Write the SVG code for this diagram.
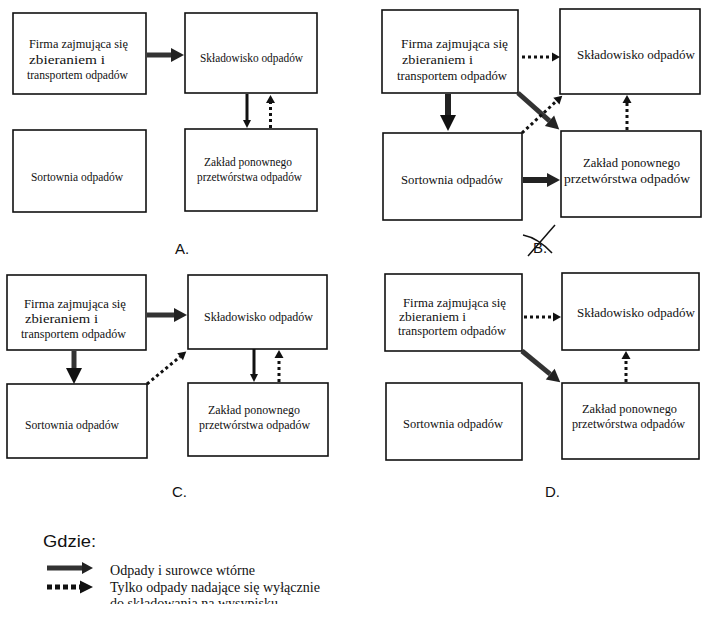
<svg xmlns="http://www.w3.org/2000/svg" width="713" height="617" viewBox="0 0 713 617">
<style>
  .box { fill: #fff; stroke: #111; stroke-width: 1.6; }
  .t { font-family: "Liberation Serif", "Times New Roman", serif; font-size: 13px; fill: #111; }
  .lt { font-family: "Liberation Serif", "Times New Roman", serif; font-size: 14px; fill: #111; }
  .lab { font-family: "Liberation Sans", Arial, sans-serif; font-size: 15px; fill: #111; }
  .thick { stroke: #333; stroke-width: 5; fill: none; }
  .thickB { stroke: #222; stroke-width: 6; fill: none; }
  .solid { stroke: #111; stroke-width: 3; fill: none; }
  .dot { stroke: #111; stroke-width: 3; stroke-dasharray: 3 3; fill: none; }
  .legdot { stroke: #111; stroke-width: 5; stroke-dasharray: 5 3; fill: none; }
  .cross { stroke: #111; stroke-width: 1.5; fill: none; }
</style>
<defs>
  <marker id="hThick" markerUnits="userSpaceOnUse" markerWidth="13" markerHeight="14" refX="0" refY="7" orient="auto" overflow="visible">
    <path d="M0,0 L13,7 L0,14 Z" fill="#222"/>
  </marker>
  <marker id="hBig" markerUnits="userSpaceOnUse" markerWidth="16" markerHeight="16" refX="0" refY="8" orient="auto" overflow="visible">
    <path d="M0,0 L16,8 L0,16 Z" fill="#111"/>
  </marker>
  <marker id="hSmall" markerUnits="userSpaceOnUse" markerWidth="8" markerHeight="8" refX="0" refY="4" orient="auto" overflow="visible">
    <path d="M0,0 L8,4 L0,8 Z" fill="#111"/>
  </marker>
  <marker id="hDot" markerUnits="userSpaceOnUse" markerWidth="8" markerHeight="9" refX="0" refY="4.5" orient="auto" overflow="visible">
    <path d="M0,0 L8,4.5 L0,9 Z" fill="#111"/>
  </marker>
  <marker id="hLeg" markerUnits="userSpaceOnUse" markerWidth="11" markerHeight="12" refX="0" refY="6" orient="auto" overflow="visible">
    <path d="M0,0 L11,6 L0,12 Z" fill="#222"/>
  </marker>
  <marker id="hLegDot" markerUnits="userSpaceOnUse" markerWidth="13" markerHeight="13" refX="0" refY="6.5" orient="auto" overflow="visible">
    <path d="M0,0 L13,6.5 L0,13 Z" fill="#111"/>
  </marker>
  <clipPath id="legClip"><rect x="0" y="0" width="713" height="604"/></clipPath>
</defs>
<rect width="713" height="617" fill="#fff"/>

<!-- Panel A -->
<g id="A-firma">
  <rect class="box" x="13" y="13" width="133" height="81"/>
  <text class="t" x="29" y="48" textLength="99" lengthAdjust="spacingAndGlyphs">Firma zajmująca się</text>
  <text class="t" x="29" y="63.5" textLength="76" lengthAdjust="spacingAndGlyphs">zbieraniem i</text>
  <text class="t" x="27" y="79" textLength="101" lengthAdjust="spacingAndGlyphs">transportem odpadów</text>
</g>
<g id="A-skladowisko">
  <rect class="box" x="185" y="13" width="132" height="80"/>
  <text class="t" x="200" y="62" textLength="103" lengthAdjust="spacingAndGlyphs">Składowisko odpadów</text>
</g>
<g id="A-sortownia">
  <rect class="box" x="13" y="130" width="133" height="82"/>
  <text class="t" x="31" y="181" textLength="92" lengthAdjust="spacingAndGlyphs">Sortownia odpadów</text>
</g>
<g id="A-zaklad">
  <rect class="box" x="185" y="129" width="132" height="82"/>
  <text class="t" x="204" y="165.5" textLength="88" lengthAdjust="spacingAndGlyphs">Zakład ponownego</text>
  <text class="t" x="197" y="180.5" textLength="105" lengthAdjust="spacingAndGlyphs">przetwórstwa odpadów</text>
</g>
<text class="lab" x="175" y="254">A.</text>

<!-- Panel B -->
<g id="B-firma">
  <rect class="box" x="382" y="10" width="136" height="83"/>
  <text class="t" x="401" y="47.5" textLength="107" lengthAdjust="spacingAndGlyphs">Firma zajmująca się</text>
  <text class="t" x="402" y="64" textLength="71" lengthAdjust="spacingAndGlyphs">zbieraniem i</text>
  <text class="t" x="397" y="79.5" textLength="110" lengthAdjust="spacingAndGlyphs">transportem odpadów</text>
</g>
<g id="B-skladowisko">
  <rect class="box" x="560" y="9" width="140" height="85"/>
  <text class="t" x="577" y="59" textLength="118" lengthAdjust="spacingAndGlyphs">Składowisko odpadów</text>
</g>
<g id="B-sortownia">
  <rect class="box" x="383" y="133" width="139" height="87"/>
  <text class="t" x="401" y="184" textLength="102" lengthAdjust="spacingAndGlyphs">Sortownia odpadów</text>
</g>
<g id="B-zaklad">
  <rect class="box" x="561" y="131" width="140" height="86"/>
  <text class="t" x="583" y="166.5" textLength="97" lengthAdjust="spacingAndGlyphs">Zakład ponownego</text>
  <text class="t" x="564" y="182.5" textLength="126" lengthAdjust="spacingAndGlyphs">przetwórstwa odpadów</text>
</g>
<g id="B-label">
  <text class="lab" x="533" y="253">B.</text>
  <path class="cross" d="M523,235 Q538,238 552,253"/>
  <path class="cross" d="M555,225 L528,256"/>
</g>

<!-- Panel C -->
<g id="C-firma">
  <rect class="box" x="7" y="275" width="139" height="75"/>
  <text class="t" x="24" y="307.5" textLength="102" lengthAdjust="spacingAndGlyphs">Firma zajmująca się</text>
  <text class="t" x="25" y="323" textLength="73" lengthAdjust="spacingAndGlyphs">zbieraniem i</text>
  <text class="t" x="21" y="337.5" textLength="105" lengthAdjust="spacingAndGlyphs">transportem odpadów</text>
</g>
<g id="C-skladowisko">
  <rect class="box" x="188" y="275" width="139" height="74"/>
  <text class="t" x="204" y="320.5" textLength="109" lengthAdjust="spacingAndGlyphs">Składowisko odpadów</text>
</g>
<g id="C-sortownia">
  <rect class="box" x="7" y="384" width="140" height="74"/>
  <text class="t" x="25" y="429" textLength="94" lengthAdjust="spacingAndGlyphs">Sortownia odpadów</text>
</g>
<g id="C-zaklad">
  <rect class="box" x="188" y="383" width="140" height="73"/>
  <text class="t" x="208" y="414" textLength="92" lengthAdjust="spacingAndGlyphs">Zakład ponownego</text>
  <text class="t" x="199" y="428.5" textLength="111" lengthAdjust="spacingAndGlyphs">przetwórstwa odpadów</text>
</g>
<text class="lab" x="172" y="497">C.</text>

<!-- Panel D -->
<g id="D-firma">
  <rect class="box" x="385" y="274" width="137" height="77"/>
  <text class="t" x="403" y="306.5" textLength="103" lengthAdjust="spacingAndGlyphs">Firma zajmująca się</text>
  <text class="t" x="399" y="321" textLength="67" lengthAdjust="spacingAndGlyphs">zbieraniem i</text>
  <text class="t" x="398" y="335" textLength="108" lengthAdjust="spacingAndGlyphs">transportem odpadów</text>
</g>
<g id="D-skladowisko">
  <rect class="box" x="562" y="273" width="137" height="77"/>
  <text class="t" x="577" y="317" textLength="118" lengthAdjust="spacingAndGlyphs">Składowisko odpadów</text>
</g>
<g id="D-sortownia">
  <rect class="box" x="386" y="383" width="136" height="77"/>
  <text class="t" x="403" y="427.5" textLength="100" lengthAdjust="spacingAndGlyphs">Sortownia odpadów</text>
</g>
<g id="D-zaklad">
  <rect class="box" x="562" y="383" width="137" height="76"/>
  <text class="t" x="582" y="412.5" textLength="95" lengthAdjust="spacingAndGlyphs">Zakład ponownego</text>
  <text class="t" x="572" y="427.5" textLength="113" lengthAdjust="spacingAndGlyphs">przetwórstwa odpadów</text>
</g>
<text class="lab" x="545" y="497">D.</text>

<!-- Connectors -->
<g id="connectors">
  <!-- A -->
  <line class="thick" x1="147" y1="55" x2="171" y2="55" marker-end="url(#hThick)"/>
  <line class="solid" x1="247" y1="94" x2="247" y2="120" marker-end="url(#hSmall)"/>
  <line class="dot" x1="270.5" y1="128" x2="270.5" y2="103" marker-end="url(#hDot)"/>
  <!-- B -->
  <line class="dot" x1="522" y1="57" x2="552" y2="57" marker-end="url(#hDot)"/>
  <line class="thickB" x1="448" y1="94" x2="448" y2="115" marker-end="url(#hBig)"/>
  <line class="thick" x1="518" y1="93" x2="549.5" y2="120.8" marker-end="url(#hThick)"/>
  <line class="dot" x1="522" y1="133" x2="556.4" y2="101.1" marker-end="url(#hDot)"/>
  <line class="dot" x1="627" y1="130" x2="627" y2="103" marker-end="url(#hDot)"/>
  <line class="thickB" x1="523" y1="180" x2="547" y2="180" marker-end="url(#hThick)"/>
  <!-- C -->
  <line class="thick" x1="147" y1="315" x2="174" y2="315" marker-end="url(#hThick)"/>
  <line class="thick" x1="74" y1="351" x2="74" y2="368" marker-end="url(#hBig)"/>
  <line class="dot" x1="147" y1="384" x2="180.1" y2="356.7" marker-end="url(#hDot)"/>
  <line class="solid" x1="254" y1="349" x2="254" y2="374" marker-end="url(#hSmall)"/>
  <line class="dot" x1="279" y1="382" x2="279" y2="358" marker-end="url(#hDot)"/>
  <!-- D -->
  <line class="dot" x1="524" y1="317" x2="553" y2="317" marker-end="url(#hDot)"/>
  <line class="thick" x1="522" y1="351" x2="550.2" y2="374.1" marker-end="url(#hThick)"/>
  <line class="dot" x1="626" y1="382" x2="626" y2="359" marker-end="url(#hDot)"/>
</g>

<!-- Legend -->
<g id="legend">
  <text x="43" y="547" font-family="Liberation Sans, Arial, sans-serif" font-size="17" fill="#111" textLength="53" lengthAdjust="spacingAndGlyphs">Gdzie:</text>
  <line class="thick" x1="47" y1="568" x2="82" y2="568" marker-end="url(#hLeg)"/>
  <line class="legdot" x1="47" y1="587" x2="80" y2="587" marker-end="url(#hLegDot)"/>
  <text class="lt" x="110" y="575" textLength="145" lengthAdjust="spacingAndGlyphs">Odpady i surowce wtórne</text>
  <text class="lt" x="110" y="591.5" textLength="210" lengthAdjust="spacingAndGlyphs">Tylko odpady nadające się wyłącznie</text>
  <text class="lt" x="110" y="607.5" textLength="168" lengthAdjust="spacingAndGlyphs" clip-path="url(#legClip)">do składowania na wysypisku</text>
</g>
</svg>
